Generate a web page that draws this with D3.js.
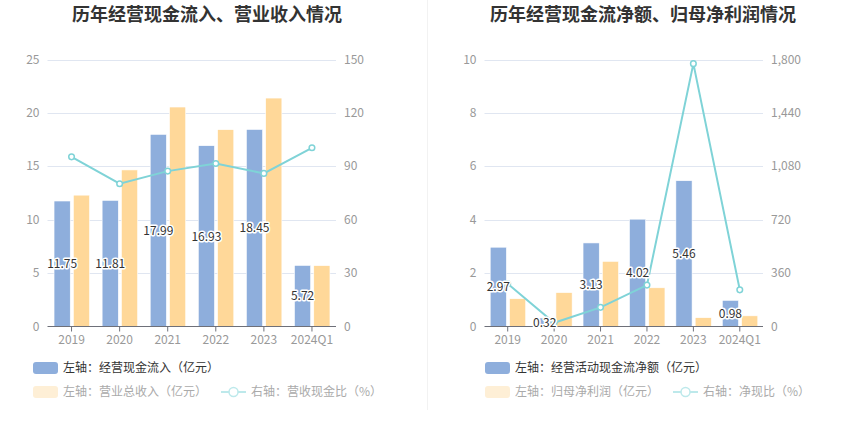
<!DOCTYPE html>
<html>
<head>
<meta charset="utf-8">
<script src="https://cdn.jsdelivr.net/npm/d3@7"></script>
<style>
  body { margin: 0; background: #fff; }
  svg { font-family: "Noto Sans CJK SC", "Noto Sans", sans-serif; }
  .val { font-size: 12px; fill: #333; stroke: #fff; stroke-width: 3px; paint-order: stroke; stroke-linejoin: round; }
</style>
</head>
<body>
<div id="chart"></div>
<script>
// categories
const years = ["2019", "2020", "2021", "2022", "2023", "2024Q1"];

// left chart: 经营现金流入 / 营业总收入 (亿元), 营收现金比 (%)
const cashIn = [11.75, 11.81, 17.99, 16.93, 18.45, 5.72];
const revenue = [12.30, 14.66, 20.55, 18.43, 21.39, 5.70];
const cashRatio = [95.3, 80.2, 87.3, 91.6, 86.0, 100.4];

// right chart: 经营活动现金流净额 / 归母净利润 (亿元), 净现比 (%)
const netCash = [2.97, 0.32, 3.13, 4.02, 5.46, 0.98];
const netProfit = [1.04, 1.27, 2.44, 1.45, 0.33, 0.40];
const netRatio = [288, 25, 129, 279, 1772, 247];

const leftTicks = [0, 5, 10, 15, 20, 25];
const leftRightTicks = [0, 30, 60, 90, 120, 150];
const rightTicks = [0, 2, 4, 6, 8, 10];
const rightRightTicks = [0, 360, 720, 1080, 1440, 1800];

const blue = "#8eaedc", yellow = "#ffd899", teal = "#7fd3d7";

const svg = d3.select("#chart").append("svg")
    .attr("width", 850)
    .attr("height", 437);

// divider between panels
svg.append("line")
    .attr("x1", 427.5).attr("x2", 427.5)
    .attr("y1", 0).attr("y2", 410)
    .attr("stroke", "#f2f2f2");

function drawPanel(cfg) {
    const g = svg.append("g");

    g.append("text")
        .attr("x", cfg.titleX).attr("y", 21)
        .attr("text-anchor", "middle")
        .attr("font-size", 18).attr("font-weight", "bold")
        .attr("fill", "#333")
        .text(cfg.title);

    const x = d3.scaleBand().domain(years).range([cfg.x0, cfg.x1]);
    const yL = d3.scaleLinear().domain([0, cfg.leftTicks[cfg.leftTicks.length - 1]]).range([326.5, 59.5]);
    const yR = d3.scaleLinear().domain([0, cfg.rightTicks[cfg.rightTicks.length - 1]]).range([326.5, 59.5]);

    // grid
    g.selectAll(".grid").data(cfg.leftTicks.slice(1)).enter().append("line")
        .attr("x1", cfg.x0).attr("x2", cfg.x1)
        .attr("y1", d => Math.round(yL(d)) + 0.5).attr("y2", d => Math.round(yL(d)) + 0.5)
        .attr("stroke", "#e0e6f1");

    // left axis labels
    g.selectAll(".ly").data(cfg.leftTicks).enter().append("text")
        .attr("x", cfg.x0 - 8).attr("y", d => yL(d) + 4)
        .attr("text-anchor", "end")
        .attr("font-size", 12).attr("fill", "#999")
        .text(d => d);

    // right axis labels
    const fmt = d3.format(",");
    g.selectAll(".ry").data(cfg.rightTicks).enter().append("text")
        .attr("x", cfg.x1 + 8).attr("y", (d, i) => yL(cfg.leftTicks[i]) + 4)
        .attr("text-anchor", "start")
        .attr("font-size", 12).attr("fill", "#999")
        .text(d => fmt(d));

    // bars
    const sub = (c) => d3.scaleBand().domain([0, 1]).range([c - 17.5, c + 18]).paddingInner(0.16);
    [cfg.bars, cfg.bars2].forEach((vals, k) => {
        g.selectAll(".bar" + k).data(vals).enter().append("rect")
            .attr("x", (d, i) => sub(x(years[i]) + x.bandwidth() / 2)(k))
            .attr("width", sub(0).bandwidth())
            .attr("y", d => yL(d))
            .attr("height", d => yL(0) - yL(d))
            .attr("fill", k === 0 ? blue : yellow)
            .attr("stroke", "#fff").attr("stroke-width", 0.6);
    });

    // x axis
    g.append("line")
        .attr("x1", cfg.x0).attr("x2", cfg.x1)
        .attr("y1", 326.5).attr("y2", 326.5)
        .attr("stroke", "#6e7079");
    g.selectAll(".xt").data(years).enter().append("line")
        .attr("x1", d => x(d) + x.bandwidth() / 2).attr("x2", d => x(d) + x.bandwidth() / 2)
        .attr("y1", 326.5).attr("y2", 331.5)
        .attr("stroke", "#6e7079");
    g.selectAll(".xl").data(years).enter().append("text")
        .attr("x", d => x(d) + x.bandwidth() / 2).attr("y", 344)
        .attr("text-anchor", "middle")
        .attr("font-size", 12).attr("fill", "#999")
        .text(d => d);

    // ratio line
    const line = d3.line()
        .x((d, i) => x(years[i]) + x.bandwidth() / 2)
        .y(d => yR(d));
    g.append("path").datum(cfg.ratio)
        .attr("d", line)
        .attr("fill", "none").attr("stroke", teal).attr("stroke-width", 2);
    g.selectAll(".pt").data(cfg.ratio).enter().append("circle")
        .attr("cx", (d, i) => x(years[i]) + x.bandwidth() / 2)
        .attr("cy", d => yR(d))
        .attr("r", 2.8)
        .attr("fill", "#fff").attr("stroke", teal).attr("stroke-width", 1.5);

    // value labels in middle of the first bar
    g.selectAll(".val").data(cfg.bars).enter().append("text")
        .attr("class", "val")
        .attr("x", (d, i) => { const s = sub(x(years[i]) + x.bandwidth() / 2); return s(0) + s.bandwidth() / 2; })
        .attr("y", d => (yL(d) + yL(0)) / 2 + 4.5)
        .attr("text-anchor", "middle")
        .text(d => d.toFixed(2));

    // legend
    const lx = cfg.legendX;
    g.append("rect").attr("x", lx).attr("y", 362).attr("width", 25).attr("height", 12)
        .attr("rx", 3).attr("fill", blue);
    g.append("text").attr("x", lx + 30).attr("y", 372)
        .attr("font-size", 12).attr("fill", "#333").text(cfg.legend[0]);

    g.append("rect").attr("x", lx).attr("y", 386).attr("width", 25).attr("height", 12)
        .attr("rx", 3).attr("fill", "#feefd6");
    const t2 = g.append("text").attr("x", lx + 30).attr("y", 396)
        .attr("font-size", 12).attr("fill", "#aaa").text(cfg.legend[1]);
    const w2 = t2.node().getComputedTextLength();
    const ix = lx + 30 + w2 + 14;
    g.append("line").attr("x1", ix).attr("x2", ix + 25).attr("y1", 392).attr("y2", 392)
        .attr("stroke", "#bde9eb").attr("stroke-width", 2);
    g.append("circle").attr("cx", ix + 12.5).attr("cy", 392).attr("r", 4.5)
        .attr("fill", "#fff").attr("stroke", "#bde9eb").attr("stroke-width", 1.5);
    g.append("text").attr("x", ix + 30).attr("y", 396)
        .attr("font-size", 12).attr("fill", "#aaa").text(cfg.legend[2]);
}

drawPanel({
    title: "历年经营现金流入、营业收入情况", titleX: 207,
    x0: 47.5, x1: 336,
    leftTicks: leftTicks, rightTicks: leftRightTicks,
    bars: cashIn, bars2: revenue, ratio: cashRatio,
    legendX: 33,
    legend: ["左轴：经营现金流入（亿元）", "左轴：营业总收入（亿元）", "右轴：营收现金比（%）"]
});

drawPanel({
    title: "历年经营现金流净额、归母净利润情况", titleX: 643,
    x0: 484.5, x1: 763,
    leftTicks: rightTicks, rightTicks: rightRightTicks,
    bars: netCash, bars2: netProfit, ratio: netRatio,
    legendX: 485,
    legend: ["左轴：经营活动现金流净额（亿元）", "左轴：归母净利润（亿元）", "右轴：净现比（%）"]
});
</script>
</body>
</html>
